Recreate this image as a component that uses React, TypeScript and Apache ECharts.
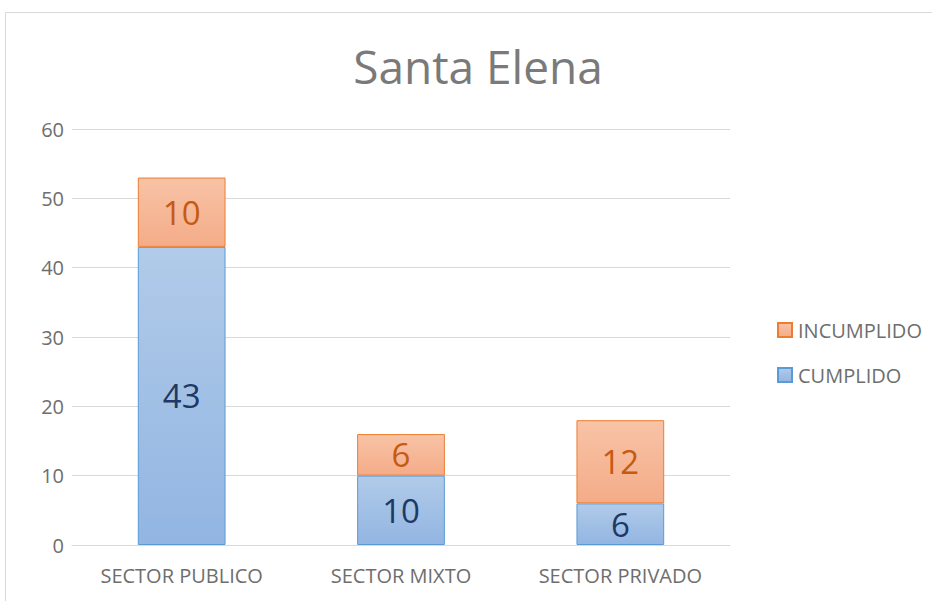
import React, { useEffect, useRef } from "react";
import * as echarts from "echarts";

const categories = ["SECTOR PUBLICO", "SECTOR MIXTO", "SECTOR PRIVADO"];
const cumplido = [43, 10, 6];
const incumplido = [10, 6, 12];
const yTicks = { min: 0, max: 60, interval: 10 };

const FONT = "'Open Sans', 'Liberation Sans', sans-serif";

export default function App() {
  const ref = useRef<HTMLDivElement>(null);
  useEffect(() => {
    if (!ref.current) return;
    const chart = echarts.init(ref.current, undefined, { renderer: "svg" });
    chart.setOption({
      animation: false,
      backgroundColor: "#ffffff",
      title: {
        text: "Santa Elena",
        left: 473,
        top: 38,
        textAlign: "center",
        textStyle: { fontFamily: FONT, fontSize: 46, fontWeight: "normal", color: "#7a7a7a" },
      },
      graphic: [
        {
          type: "rect",
          shape: { x: 5.5, y: 12.5, width: 940, height: 600 },
          style: { fill: "none", stroke: "#d9d9d9", lineWidth: 1 },
          silent: true,
        },
      ],
      legend: {
        orient: "vertical",
        left: 772,
        top: 315,
        icon: "rect",
        itemWidth: 14,
        itemHeight: 14,
        itemGap: 25,
        data: ["INCUMPLIDO", "CUMPLIDO"],
        textStyle: { fontFamily: FONT, fontSize: 20, color: "#6e6e6e", padding: [0, 0, 0, 1] },
      },
      grid: { left: 72, right: 202, top: 129, bottom: 56, containLabel: false },
      xAxis: {
        type: "category",
        data: categories,
        axisLine: { lineStyle: { color: "#d9d9d9", width: 1 } },
        axisTick: { show: false },
        axisLabel: { fontFamily: FONT, fontSize: 20, color: "#6e6e6e", margin: 20 },
      },
      yAxis: {
        type: "value",
        min: yTicks.min,
        max: yTicks.max,
        interval: yTicks.interval,
        axisLine: { show: false },
        axisTick: { show: false },
        splitLine: { lineStyle: { color: "#d9d9d9", width: 1 } },
        axisLabel: { fontFamily: FONT, fontSize: 20, color: "#6e6e6e", margin: 8 },
      },
      series: [
        {
          name: "CUMPLIDO",
          type: "bar",
          stack: "total",
          barWidth: "40%",
          data: cumplido,
          itemStyle: {
            color: new echarts.graphic.LinearGradient(0, 0, 0, 1, [
              { offset: 0, color: "#b1cbe9" },
              { offset: 1, color: "#92b5e2" },
            ]),
            borderColor: "#5b9bd5",
            borderWidth: 1,
          },
          label: {
            show: true,
            position: "inside",
            fontFamily: FONT,
            fontSize: 33,
            color: "#1f3864",
          },
        },
        {
          name: "INCUMPLIDO",
          type: "bar",
          stack: "total",
          barWidth: "40%",
          data: incumplido,
          itemStyle: {
            color: new echarts.graphic.LinearGradient(0, 0, 0, 1, [
              { offset: 0, color: "#f8c3a6" },
              { offset: 1, color: "#f4ac88" },
            ]),
            borderColor: "#ed7d31",
            borderWidth: 1,
          },
          label: {
            show: true,
            position: "inside",
            fontFamily: FONT,
            fontSize: 33,
            color: "#c55a11",
          },
        },
      ],
    });
    return () => chart.dispose();
  }, []);
  return (
    <div
      ref={ref}
      style={{ position: "fixed", left: 0, top: 0, width: 932, height: 601 }}
    />
  );
}
